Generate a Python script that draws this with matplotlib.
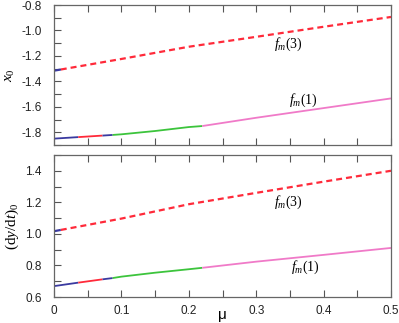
import numpy as np
import matplotlib
matplotlib.use('Agg')
import matplotlib.pyplot as plt
from matplotlib.ticker import MultipleLocator

plt.rcParams['font.family'] = 'Liberation Sans'
plt.rcParams['mathtext.fontset'] = 'custom'
plt.rcParams['mathtext.rm'] = 'Liberation Serif'
plt.rcParams['mathtext.it'] = 'Liberation Serif:italic'

# mu grid for f_m(1) branch, with colour-change points
mu1 = [0, 0.036, 0.072, 0.087, 0.1, 0.15, 0.2, 0.22, 0.3, 0.4, 0.5]
x0_f1 = [-1.85, -1.838, -1.826, -1.821, -1.816, -1.79, -1.759, -1.751, -1.686, -1.61, -1.534]
dy_f1 = [0.669, 0.691, 0.712, 0.72, 0.729, 0.754, 0.776, 0.785, 0.824, 0.867, 0.911]
# segment colours along f_m(1)
seg_bounds = [0, 0.036, 0.072, 0.087, 0.22, 0.5]
seg_colors = ['#3a3aa0', '#ff2a3a', '#3a3aa0', '#3cc43c', '#f07ac8']

# f_m(3) branch (dashed)
mu3 = [0, 0.01, 0.1, 0.2, 0.3, 0.4, 0.5]
x0_f3 = [-1.316, -1.307, -1.224, -1.128, -1.05, -0.971, -0.894]
dy_f3 = [1.017, 1.025, 1.097, 1.188, 1.26, 1.331, 1.40]
f3_blue_end = 0.01

fig = plt.figure(figsize=(3.99, 3.23), dpi=100)
ax1 = fig.add_axes([54/399, 1-145/323, 337/399, 140/323])
ax2 = fig.add_axes([54/399, 1-297/323, 337/399, 142/323])


def draw(ax, y1, y3):
    m1 = np.array(mu1)
    v1 = np.array(y1)
    for i, c in enumerate(seg_colors):
        a, b = seg_bounds[i], seg_bounds[i+1]
        k = (m1 >= a - 1e-9) & (m1 <= b + 1e-9)
        ax.plot(m1[k], v1[k], color=c, lw=1.3, solid_capstyle='butt')
    m3 = np.array(mu3)
    v3 = np.array(y3)
    k = m3 >= f3_blue_end - 1e-9
    ax.plot(m3[k], v3[k], color='#ff2a3a', lw=1.6, linestyle=(0, (2.7, 1.8)))
    k = m3 <= f3_blue_end + 1e-9
    ax.plot(m3[k], v3[k], color='#3a3aa0', lw=1.6, solid_capstyle='butt')


draw(ax1, x0_f1, x0_f3)
draw(ax2, dy_f1, dy_f3)

for ax in (ax1, ax2):
    ax.set_xlim(0, 0.5)
    ax.xaxis.set_major_locator(MultipleLocator(0.1))
    ax.xaxis.set_minor_locator(MultipleLocator(0.05))
    ax.yaxis.set_minor_locator(MultipleLocator(0.1))
    ax.yaxis.set_major_locator(MultipleLocator(0.2))
    ax.tick_params(which='both', direction='in', top=True, right=False,
                   length=5, width=0.8, color='#555555', labelsize=8.5,
                   labelcolor='#222222')
    ax.tick_params(axis='y', which='both', pad=9)
    ax.tick_params(axis='x', which='both', pad=5.5)
    for s in ax.spines.values():
        s.set_color('#666666')
        s.set_linewidth(0.9)

ax1.set_ylim(-1.9, -0.8)
ax1.set_yticks([-1.8, -1.6, -1.4, -1.2, -1.0, -0.8])
ax1.set_yticklabels(['-1.8', '-1.6', '-1.4', '-1.2', '-1.0', '-0.8'])
ax1.tick_params(labelbottom=False)
ax2.set_ylim(0.6, 1.5)
ax2.set_xticks([0, 0.1, 0.2, 0.3, 0.4, 0.5])
ax2.set_xticklabels(['0', '0.1', '0.2', '0.3', '0.4', '0.5'])

ax1.set_ylabel(r'$x_0$', fontsize=11, labelpad=3)
ax2.set_ylabel(r'$\mathrm{(d}y\mathrm{/d}t\mathrm{)}_0$', fontsize=11, labelpad=3)

ax1.text(0.348, -1.11, r'$f_m\mathrm{(3)}$', fontsize=10, ha='center', va='center')
ax1.text(0.37, -1.55, r'$f_m\mathrm{(1)}$', fontsize=10, ha='center', va='center')
ax2.text(0.348, 1.20, r'$f_m\mathrm{(3)}$', fontsize=10, ha='center', va='center')
ax2.text(0.373, 0.785, r'$f_m\mathrm{(1)}$', fontsize=10, ha='center', va='center')

fig.text(222/399, 1-315/323, 'μ', fontsize=11, ha='center', va='center')

fig.savefig('out.png', dpi=100)
